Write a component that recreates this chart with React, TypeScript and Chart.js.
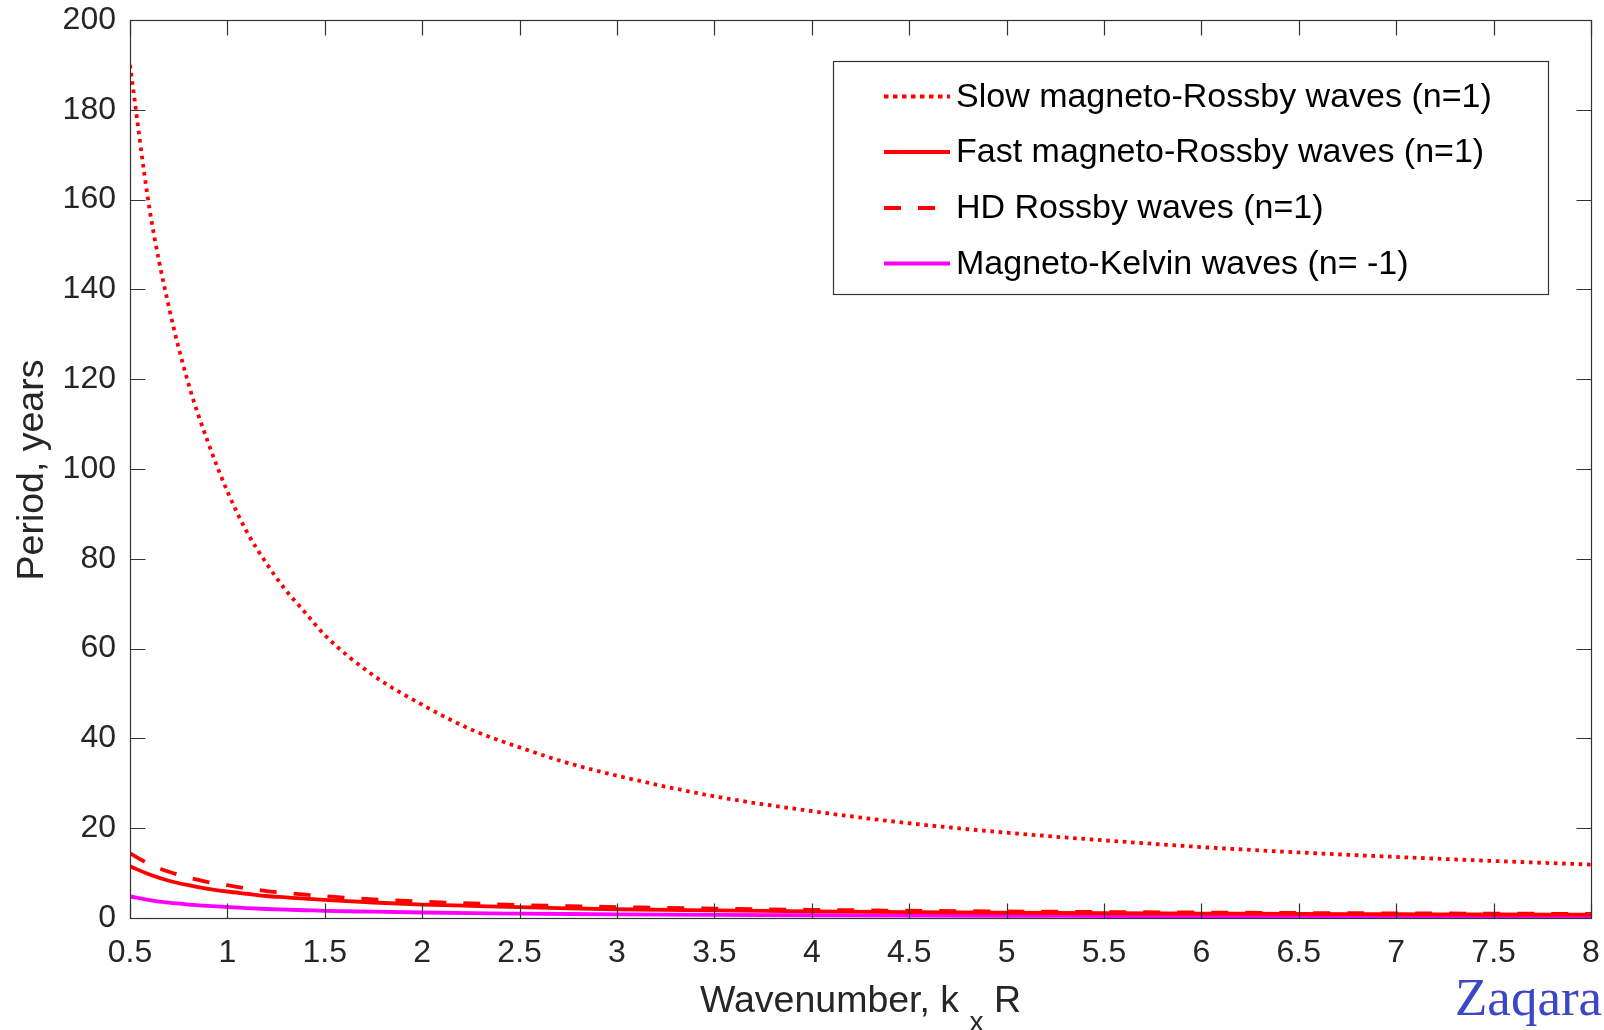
import React, { useEffect, useRef } from "react";
import { Chart, registerables } from "chart.js";

Chart.register(...registerables);

// Wavenumber k_x R sample points
const wavenumbers = [0.5, 0.6, 0.7, 0.8, 0.9, 1.0, 1.1, 1.2, 1.3, 1.4, 1.5, 1.75, 2.0, 2.25, 2.5, 2.75, 3.0, 3.5, 4.0, 4.5, 5.0, 5.5, 6.0, 6.5, 7.0, 7.5, 8.0];
// Periods in years
const slowMagnetoRossby = [190, 158, 136, 119, 106, 95, 86, 79, 73, 68, 63, 54, 47.5, 42, 38, 34.5, 31.7, 27.1, 23.8, 21.1, 19, 17.3, 15.8, 14.6, 13.6, 12.7, 11.9];
const fastMagnetoRossby = [11.5, 9.7, 8.3, 7.3, 6.5, 5.9, 5.4, 4.9, 4.6, 4.3, 4.05, 3.45, 3.0, 2.7, 2.4, 2.15, 1.95, 1.68, 1.47, 1.3, 1.17, 1.06, 0.98, 0.9, 0.84, 0.78, 0.73];
const hdRossby = [14.4, 12.0, 10.3, 9.0, 8.0, 7.3, 6.6, 6.0, 5.6, 5.2, 4.85, 4.15, 3.65, 3.25, 2.9, 2.65, 2.43, 2.08, 1.82, 1.62, 1.46, 1.33, 1.22, 1.12, 1.04, 0.97, 0.91];
const magnetoKelvin = [4.8, 4.0, 3.4, 3.0, 2.7, 2.45, 2.2, 2.0, 1.85, 1.73, 1.6, 1.4, 1.22, 1.08, 0.98, 0.89, 0.82, 0.7, 0.61, 0.54, 0.49, 0.45, 0.41, 0.38, 0.35, 0.33, 0.31];

const seriesLabels = [
  "Slow magneto-Rossby waves (n=1)",
  "Fast magneto-Rossby waves (n=1)",
  "HD Rossby waves (n=1)",
  "Magneto-Kelvin waves (n= -1)",
];

const xTicks = [0.5, 1, 1.5, 2, 2.5, 3, 3.5, 4, 4.5, 5, 5.5, 6, 6.5, 7, 7.5, 8];
const yTicks = [0, 20, 40, 60, 80, 100, 120, 140, 160, 180, 200];

const xTitle = "Wavenumber, k";
const xTitleSub = "x";
const xTitleTail = "R";
const yTitle = "Period, years";
const watermark = "Zaqara";

const SANS = "'Liberation Sans', Arial, Helvetica, sans-serif";
const AXIS_COLOR = "#262626";

const pts = (ys: number[]) => wavenumbers.map((x, i) => ({ x, y: ys[i] }));

const zeroPad = (s: any) => {
  s.paddingTop = 0;
  s.paddingBottom = 0;
  s.paddingLeft = 0;
  s.paddingRight = 0;
};

const decorPlugin = {
  id: "decor",
  afterDraw(chart: any) {
    const ctx = chart.ctx as CanvasRenderingContext2D;
    const { left, right, top, bottom } = chart.chartArea;
    const xs = chart.scales.x;
    const ys = chart.scales.y;
    ctx.save();
    // box
    ctx.strokeStyle = "#333333";
    ctx.lineWidth = 1.2;
    const L = Math.round(left) + 0.5, R = Math.round(right) + 0.5, T = Math.round(top) + 0.5, B = Math.round(bottom) + 0.5;
    ctx.strokeRect(L, T, R - L, B - T);
    // inward ticks
    const tl = 15;
    ctx.beginPath();
    xs.ticks.forEach((t: any) => {
      const px = Math.round(xs.getPixelForValue(t.value)) + 0.5;
      ctx.moveTo(px, B); ctx.lineTo(px, B - tl);
      ctx.moveTo(px, T); ctx.lineTo(px, T + tl);
    });
    ys.ticks.forEach((t: any) => {
      const py = Math.round(ys.getPixelForValue(t.value)) + 0.5;
      ctx.moveTo(L, py); ctx.lineTo(L + tl, py);
      ctx.moveTo(R, py); ctx.lineTo(R - tl, py);
    });
    ctx.stroke();

    // legend
    const lx0 = 833.5, ly0 = 61.5, lx1 = 1548.5, ly1 = 294.5;
    ctx.fillStyle = "#ffffff";
    ctx.fillRect(lx0, ly0, lx1 - lx0, ly1 - ly0);
    ctx.strokeStyle = "#333333";
    ctx.lineWidth = 1.2;
    ctx.strokeRect(lx0, ly0, lx1 - lx0, ly1 - ly0);
    const rows = [96.5, 152, 208, 263.5];
    chart.data.datasets.forEach((ds: any, i: number) => {
      const y = rows[i];
      ctx.save();
      ctx.strokeStyle = ds.borderColor;
      ctx.lineWidth = 4;
      ctx.lineCap = "butt";
      ctx.setLineDash(i === 0 ? [4.5, 4.5] : i === 2 ? [17, 17] : []);
      ctx.beginPath();
      ctx.moveTo(884, y);
      ctx.lineTo(950, y);
      ctx.stroke();
      ctx.restore();
      ctx.fillStyle = "#000000";
      ctx.font = `34px ${SANS}`;
      ctx.textAlign = "left";
      ctx.textBaseline = "middle";
      ctx.fillText(ds.label, 956, y + 1);
    });

    // x title with subscript
    ctx.fillStyle = AXIS_COLOR;
    ctx.textBaseline = "alphabetic";
    ctx.textAlign = "left";
    const mainFont = `37.5px ${SANS}`;
    const subFont = `28px ${SANS}`;
    ctx.font = mainFont;
    const w1 = ctx.measureText(xTitle + " ").width;
    const w3 = ctx.measureText(" " + xTitleTail).width;
    ctx.font = subFont;
    const w2 = ctx.measureText(xTitleSub).width;
    const total = w1 + w2 + w3;
    let sx = (left + right) / 2 - total / 2;
    const base = 1012;
    ctx.font = mainFont;
    ctx.fillText(xTitle + " ", sx, base);
    sx += w1;
    ctx.font = subFont;
    ctx.fillText(xTitleSub, sx, base + 19);
    sx += w2;
    ctx.font = mainFont;
    ctx.fillText(" " + xTitleTail, sx, base);

    // y title
    ctx.save();
    ctx.translate(43, 470);
    ctx.rotate(-Math.PI / 2);
    ctx.textAlign = "center";
    ctx.font = mainFont;
    ctx.fillText(yTitle, 0, 0);
    ctx.restore();

    // watermark
    ctx.fillStyle = "#3b47c4";
    ctx.font = "53px 'Liberation Serif', 'Times New Roman', serif";
    ctx.textAlign = "left";
    ctx.fillText(watermark, 1455, 1015);
    ctx.restore();
  },
};

export default function App() {
  const canvasRef = useRef<HTMLCanvasElement | null>(null);

  useEffect(() => {
    document.body.style.margin = "0";
    const canvas = canvasRef.current;
    if (!canvas) return;
    const common = { pointRadius: 0, borderWidth: 3.8, fill: false, cubicInterpolationMode: "monotone" as const, borderCapStyle: "butt" as const };
    const chart = new Chart(canvas, {
      type: "line",
      data: {
        datasets: [
          { label: seriesLabels[0], data: pts(slowMagnetoRossby), borderColor: "#ff0000", borderDash: [3.6, 4.7], ...common },
          { label: seriesLabels[1], data: pts(fastMagnetoRossby), borderColor: "#ff0000", ...common },
          { label: seriesLabels[2], data: pts(hdRossby), borderColor: "#ff0000", borderDash: [17, 17], ...common },
          { label: seriesLabels[3], data: pts(magnetoKelvin), borderColor: "#ff00ff", ...common },
        ],
      },
      options: {
        animation: false,
        responsive: false,
        devicePixelRatio: 1,
        layout: { padding: { left: 0, top: 20, right: 13, bottom: 0 } },
        plugins: { legend: { display: false }, tooltip: { enabled: false } },
        scales: {
          x: {
            type: "linear",
            min: 0.5,
            max: 8,
            afterBuildTicks: (s: any) => { s.ticks = xTicks.map((v) => ({ value: v })); },
            afterFit: (s: any) => { s.height = 112; zeroPad(s); },
            grid: { display: false, drawTicks: false },
            border: { display: false },
            ticks: {
              color: AXIS_COLOR,
              font: { family: SANS, size: 32 },
              padding: 16,
              maxRotation: 0,
              autoSkip: false,
              callback: (v: any) => String(v),
            },
          },
          y: {
            type: "linear",
            min: 0,
            max: 200,
            afterBuildTicks: (s: any) => { s.ticks = yTicks.map((v) => ({ value: v })); },
            afterFit: (s: any) => { s.width = 130; zeroPad(s); },
            grid: { display: false, drawTicks: false },
            border: { display: false },
            ticks: {
              color: AXIS_COLOR,
              font: { family: SANS, size: 32 },
              padding: 14,
              autoSkip: false,
              callback: (v: any) => String(v),
            },
          },
        },
      },
      plugins: [decorPlugin],
    });
    return () => chart.destroy();
  }, []);

  return (
    <div style={{ position: "absolute", left: 0, top: 0, width: 1604, height: 1030, background: "#ffffff" }}>
      <canvas ref={canvasRef} width={1604} height={1030} style={{ width: 1604, height: 1030, display: "block" }} />
    </div>
  );
}
